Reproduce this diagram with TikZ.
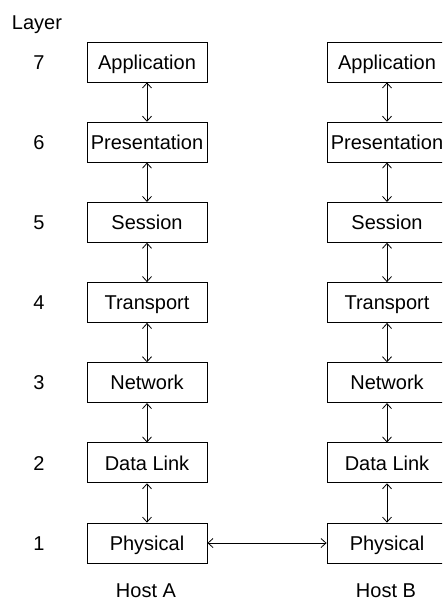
\documentclass[tikz,border=0pt]{standalone}
\usepackage{fontspec}
\setmainfont{Liberation Sans}
\usetikzlibrary{arrows.meta}
\begin{document}
\begin{tikzpicture}[x=1pt,y=1pt,
  layerbox/.style={draw,line width=0.8pt,minimum width=120pt,minimum height=40pt,inner sep=0pt,text height=14.3pt,text depth=0pt,font=\fontsize{20}{24}\selectfont},
  lbl/.style={font=\fontsize{20}{24}\selectfont,inner sep=0pt,text height=14.3pt,text depth=0pt},
  link/.style={line width=0.8pt,{Straight Barb[length=5pt,width=9pt]}-{Straight Barb[length=5pt,width=9pt]}}]
\useasboundingbox (0,0) rectangle (442,-599);
\clip (0,0) rectangle (442,-599);
\node[lbl] (layer) at (37,-22) {Layer};
\foreach \i/\name [count=\k from 0] in {7/Application,6/Presentation,5/Session,4/Transport,3/Network,2/Data Link,1/Physical}{
  \pgfmathsetmacro{\yy}{-62-80.17*\k}
  \node[lbl] (n\i) at (39,\yy) {\i};
  \node[layerbox] (a\i) at (147,\yy) {\name};
  \node[layerbox] (b\i) at (387,\yy) {\name};
}
\foreach \u/\l in {7/6,6/5,5/4,4/3,3/2,2/1}{
  \draw[link] (a\u.south) -- (a\l.north);
  \draw[link] (b\u.south) -- (b\l.north);
}
\draw[link] (a1.east) -- (b1.west);
\node[lbl] (hosta) at (146,-590) {Host A};
\node[lbl] (hostb) at (386,-590) {Host B};
\end{tikzpicture}
\end{document}
